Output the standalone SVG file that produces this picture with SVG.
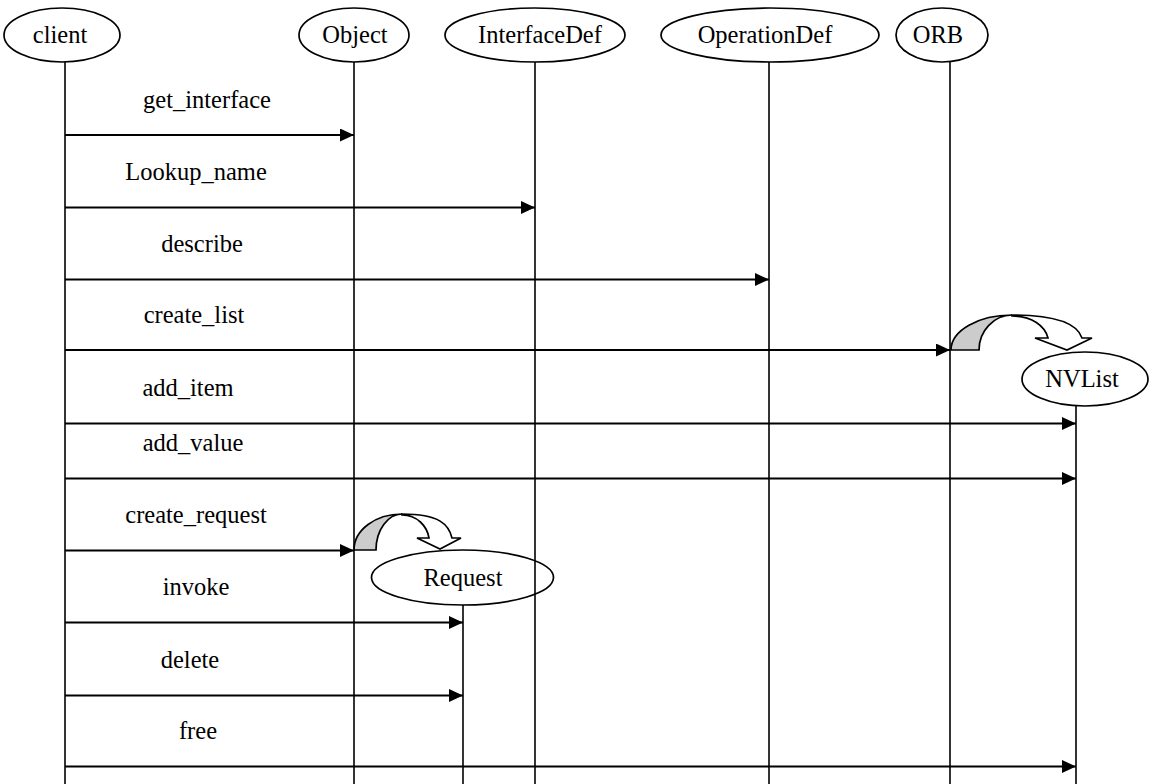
<svg xmlns="http://www.w3.org/2000/svg" width="1150" height="784" viewBox="0 0 1150 784">
  <style>
    .node { fill: #ffffff; stroke: #000000; stroke-width: 1.7; }
    .label { font-family: "Liberation Serif", "Times New Roman", serif; font-size: 24.5px; fill: #000000; text-anchor: middle; }
    .life { stroke: #000000; stroke-width: 1.6; fill: none; }
    .msg { stroke: #000000; stroke-width: 1.8; fill: none; marker-end: url(#head); }
    .back { fill: #cccccc; stroke: #000000; stroke-width: 1.7; stroke-linejoin: miter; }
    .front { fill: #ffffff; stroke: #000000; stroke-width: 1.7; stroke-linejoin: miter; }
  </style>
  <defs>
    <marker id="head" markerUnits="userSpaceOnUse" markerWidth="14" markerHeight="13" refX="14" refY="6.5" orient="auto">
      <path d="M0,0 L14,6.5 L0,13 Z" fill="#000000"/>
    </marker>
  </defs>

  <rect width="1150" height="784" fill="#ffffff"/>

  <!-- lifelines -->
  <g id="lifelines">
    <line class="life" x1="65" y1="62" x2="65" y2="784"/>
    <line class="life" x1="354" y1="62" x2="354" y2="784"/>
    <line class="life" x1="535" y1="62" x2="535" y2="784"/>
    <line class="life" x1="769" y1="62" x2="769" y2="784"/>
    <line class="life" x1="950" y1="62" x2="950" y2="784"/>
    <line class="life" x1="1076" y1="406" x2="1076" y2="784"/>
    <line class="life" x1="463" y1="605" x2="463" y2="784"/>
  </g>

  <!-- participants -->
  <g id="client">
    <ellipse class="node" cx="62" cy="35" rx="58" ry="27"/>
    <text class="label" x="60" y="43">client</text>
  </g>
  <g id="object">
    <ellipse class="node" cx="354" cy="35" rx="55" ry="27"/>
    <text class="label" x="355" y="43">Object</text>
  </g>
  <g id="interfacedef">
    <ellipse class="node" cx="535" cy="35" rx="90" ry="27"/>
    <text class="label" x="540" y="43">InterfaceDef</text>
  </g>
  <g id="operationdef">
    <ellipse class="node" cx="770" cy="35" rx="109" ry="27"/>
    <text class="label" x="765" y="43">OperationDef</text>
  </g>
  <g id="orb">
    <ellipse class="node" cx="942" cy="35" rx="46" ry="27"/>
    <text class="label" x="938" y="43">ORB</text>
  </g>

  <!-- creation arrows -->
  <g id="create-nvlist-arrow">
    <path class="back" d="M951,350 C951,330.5 978.5,315 1012,315 C994,315 979,331 979,350 Z"/>
    <path class="front" d="M1012,315 C1062,315 1078,326 1082,338 L1092,338 L1067,350 L1035,338 L1048,338 C1045,326 1032,316 1012,316 Z"/>
  </g>
  <g id="create-request-arrow">
    <path class="back" d="M354,550 C354,530 375.5,514 402,514 C388,514 376,530 376,550 Z"/>
    <path class="front" d="M402,514 C440,514 449,525 452,538 L461,538 L440,549 L417,538 L429,538 C427,526 417,515 402,515 Z"/>
  </g>

  <g id="nvlist">
    <ellipse class="node" cx="1085" cy="379" rx="63" ry="27"/>
    <text class="label" x="1082" y="387">NVList</text>
  </g>
  <g id="request">
    <ellipse class="node" cx="462.5" cy="577.5" rx="91" ry="27.5" fill="none" style="fill:none"/>
    <text class="label" x="463" y="586">Request</text>
  </g>

  <!-- messages -->
  <g id="connectors">
    <line class="msg" x1="65" y1="135" x2="354" y2="135"/>
    <line class="msg" x1="65" y1="207.5" x2="535" y2="207.5"/>
    <line class="msg" x1="65" y1="279.5" x2="769" y2="279.5"/>
    <line class="msg" x1="65" y1="350" x2="950" y2="350"/>
    <line class="msg" x1="65" y1="423.5" x2="1076" y2="423.5"/>
    <line class="msg" x1="65" y1="478.5" x2="1076" y2="478.5"/>
    <line class="msg" x1="65" y1="550.5" x2="354" y2="550.5"/>
    <line class="msg" x1="65" y1="622.5" x2="463" y2="622.5"/>
    <line class="msg" x1="65" y1="695.5" x2="463" y2="695.5"/>
    <line class="msg" x1="65" y1="766.5" x2="1076" y2="766.5"/>
  </g>

  <g id="message-labels">
    <text class="label" x="207" y="107.5">get_interface</text>
    <text class="label" x="196" y="180">Lookup_name</text>
    <text class="label" x="202" y="252">describe</text>
    <text class="label" x="194" y="322.5">create_list</text>
    <text class="label" x="188" y="396">add_item</text>
    <text class="label" x="193" y="451">add_value</text>
    <text class="label" x="196" y="523">create_request</text>
    <text class="label" x="196" y="595">invoke</text>
    <text class="label" x="190" y="668">delete</text>
    <text class="label" x="198" y="739">free</text>
  </g>
</svg>
